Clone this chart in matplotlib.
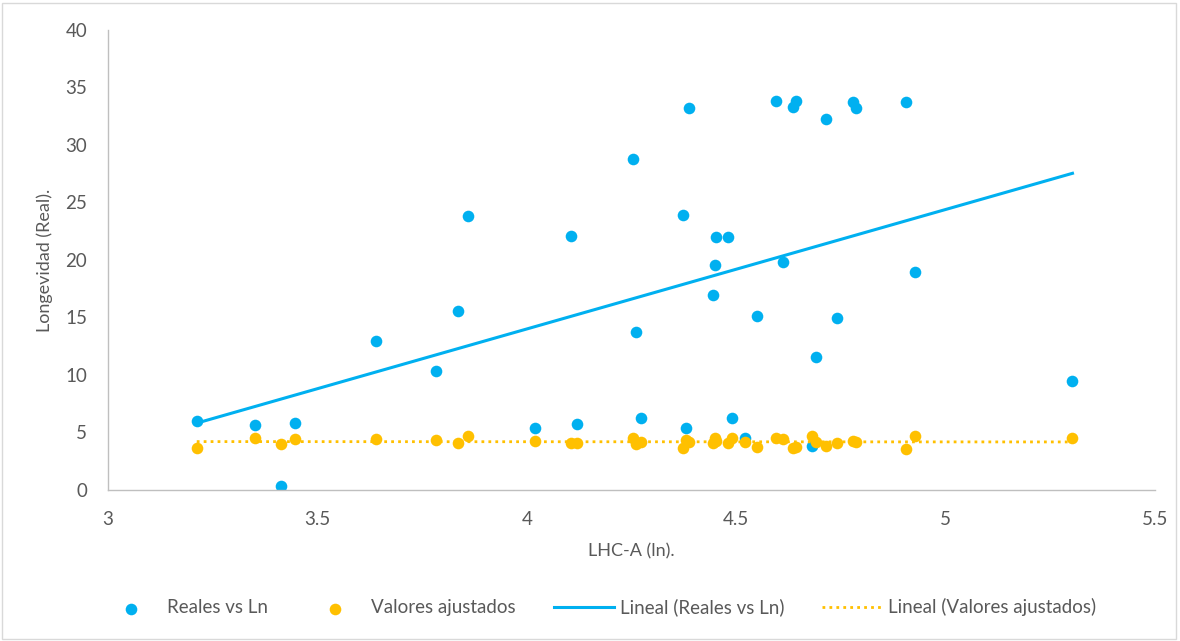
import numpy as np
import matplotlib.pyplot as plt
from matplotlib.patches import Rectangle

plt.rcParams['font.family'] = ['Lato', 'DejaVu Sans']

# LHC-A (ln) values
lhc_ln = [3.212, 3.351, 3.413, 3.446, 3.640, 3.783, 3.835, 3.859, 4.019, 4.105,
          4.119, 4.253, 4.260, 4.272, 4.372, 4.379, 4.387, 4.444, 4.449, 4.453,
          4.480, 4.489, 4.520, 4.549, 4.594, 4.611, 4.635, 4.642, 4.680, 4.690,
          4.714, 4.740, 4.780, 4.785, 4.905, 4.928, 5.303]

# observed longevity
reales = [6.0, 5.65, 0.35, 5.83, 12.96, 10.35, 15.57, 23.8, 5.36, 22.1,
          5.74, 28.8, 13.74, 6.23, 23.9, 5.36, 33.2, 16.96, 19.6, 22.0,
          22.0, 6.23, 4.5, 15.1, 33.8, 19.8, 33.3, 33.8, 3.83, 11.57,
          32.26, 14.96, 33.7, 33.2, 33.7, 18.96, 9.5]

# fitted values
ajustados = [3.63, 4.55, 3.97, 4.46, 4.41, 4.35, 4.11, 4.7, 4.29, 4.06,
             4.06, 4.5, 3.97, 4.15, 3.68, 4.35, 4.2, 4.06, 4.5, 4.3,
             4.11, 4.5, 4.15, 3.71, 4.5, 4.41, 3.63, 3.77, 4.7, 4.2,
             3.83, 4.06, 4.29, 4.2, 3.54, 4.7, 4.5]

x = np.array(lhc_ln)
y1 = np.array(reales)
y2 = np.array(ajustados)

blue = '#00B0F0'
gold = '#FFC000'
txt = '#595959'

fig = plt.figure(figsize=(11.8, 6.41), dpi=100)
ax = fig.add_axes([0.0915, 0.2356, 0.8873, 0.7176])

ax.scatter(x, y1, s=70, color=blue, linewidths=0, label='Reales vs Ln', zorder=2)
ax.scatter(x, y2, s=70, color=gold, linewidths=0, label='Valores ajustados', zorder=3)

# linear trend lines (least squares, like Excel)
xs = np.array([x.min(), x.max()])
p1 = np.polyfit(x, y1, 1)
p2 = np.polyfit(x, y2, 1)
ax.plot(xs, np.polyval(p1, xs), color=blue, lw=2.2, label='Lineal (Reales vs Ln)', zorder=4)
ax.plot(xs, np.polyval(p2, xs), color=gold, lw=2.0, linestyle=(0, (1, 1.5)),
        label='Lineal (Valores ajustados)', zorder=4)

ax.set_xlim(3, 5.5)
ax.set_ylim(0, 40)
ax.set_xticks([3, 3.5, 4, 4.5, 5, 5.5])
ax.set_xticklabels(['3', '3.5', '4', '4.5', '5', '5.5'])
ax.set_yticks(range(0, 41, 5))
ax.tick_params(length=0, labelsize=13.5, labelcolor=txt)
ax.tick_params(axis='x', pad=15)
ax.tick_params(axis='y', pad=15)
for s in ['top', 'right']:
    ax.spines[s].set_visible(False)
for s in ['left', 'bottom']:
    ax.spines[s].set_color('#BFBFBF')
    ax.spines[s].set_linewidth(1.0)

ax.set_xlabel('LHC-A (ln).', fontsize=13, color=txt, labelpad=11)
ax.set_ylabel('Longevidad (Real).', fontsize=13, color=txt, labelpad=9)

fig.legend(loc='lower center', bbox_to_anchor=(0.507, 0.012), ncol=4, frameon=False,
           fontsize=13.5, labelcolor=txt, columnspacing=2.0, handlelength=3.2,
           handletextpad=0.32)

fig.add_artist(Rectangle((0.002, 0.003), 0.995, 0.993, transform=fig.transFigure,
                         fill=False, edgecolor='#D9D9D9', lw=1))

fig.savefig('out.png', dpi=100)
